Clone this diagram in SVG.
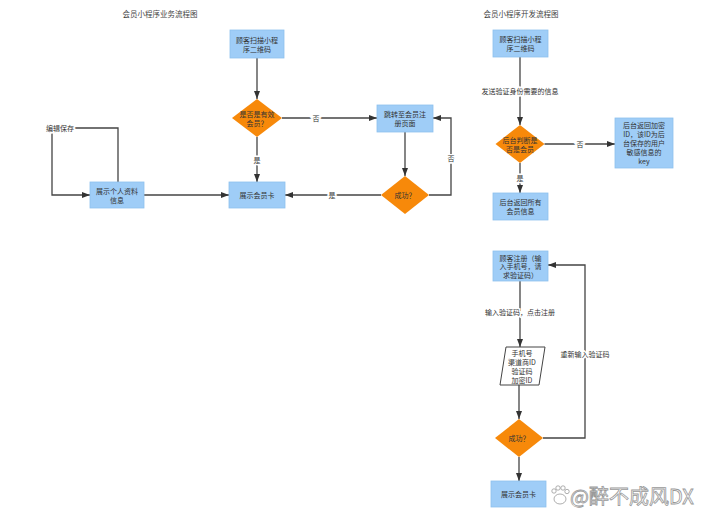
<svg xmlns="http://www.w3.org/2000/svg" width="712" height="521" viewBox="0 0 712 521">
<style>
text{font-family:"Noto Sans CJK SC","Liberation Sans",sans-serif;font-size:7px;fill:#333;text-anchor:middle;dominant-baseline:central}
.box{fill:#9fcdf7;stroke:#8ec0ee;stroke-width:0.8}
.dia{fill:#f7890a}
.edge{fill:none;stroke:#444;stroke-width:1.3}
.lbl{stroke:#fff;stroke-width:3;paint-order:stroke}
.title{font-size:7.5px;fill:#444}
.wm{font-size:20px;fill:#fff;stroke:#999;stroke-width:0.8;text-anchor:start}
.paw{fill:#fff;stroke:#999;stroke-width:0.8}
</style>
<defs>
<marker id="ah" markerWidth="8" markerHeight="6" refX="8" refY="3" orient="auto" markerUnits="userSpaceOnUse">
<path d="M0,0 L8,3 L0,6 z" fill="#333"/>
</marker>
</defs>
<rect width="712" height="521" fill="#fff"/>
<text class="title" x="160" y="13">会员小程序业务流程图</text>
<text class="title" x="521" y="13">会员小程序开发流程图</text>

<g id="connectors">
<path class="edge" d="M257,58 V99" marker-end="url(#ah)"/>
<path class="edge" d="M282,118 H377" marker-end="url(#ah)"/>
<path class="edge" d="M405,132 V176" marker-end="url(#ah)"/>
<path class="edge" d="M429,195 H451 V118 H433" marker-end="url(#ah)"/>
<path class="edge" d="M381,195 H285" marker-end="url(#ah)"/>
<path class="edge" d="M257,137 V182" marker-end="url(#ah)"/>
<path class="edge" d="M144,195 H229" marker-end="url(#ah)"/>
<path class="edge" d="M118,182 V128 H52 V195 H90" marker-end="url(#ah)"/>
<path class="edge" d="M520,57 V125" marker-end="url(#ah)"/>
<path class="edge" d="M544.5,144 H615" marker-end="url(#ah)"/>
<path class="edge" d="M520,163 V193" marker-end="url(#ah)"/>
<path class="edge" d="M520,281 V347" marker-end="url(#ah)"/>
<path class="edge" d="M519,385 V419" marker-end="url(#ah)"/>
<path class="edge" d="M543,438 H585 V265 H548" marker-end="url(#ah)"/>
<path class="edge" d="M519,457 V481" marker-end="url(#ah)"/>
<text class="lbl" x="316" y="118">否</text>
<text class="lbl" x="451" y="158">否</text>
<text class="lbl" x="332" y="195">是</text>
<text class="lbl" x="257" y="160">是</text>
<text class="lbl" x="60" y="128">编辑保存</text>
<text class="lbl" x="520" y="91">发送验证身份需要的信息</text>
<text class="lbl" x="580" y="144">否</text>
<text class="lbl" x="520" y="178">是</text>
<text class="lbl" x="520" y="312">输入验证码，点击注册</text>
<text class="lbl" x="585" y="354">重新输入验证码</text>
</g>

<g id="n_scan_left">
<rect class="box" x="230" y="30" width="54" height="28"/>
<text x="257" y="40">顾客扫描小程</text>
<text x="257" y="49">序二维码</text>
</g>
<g id="n_valid">
<polygon class="dia" points="257,99 282,118 257,137 232,118"/>
<text x="257" y="114">是否是有效</text>
<text x="257" y="123">会员？</text>
</g>
<g id="n_register_page">
<rect class="box" x="377" y="105" width="56" height="27"/>
<text x="405" y="114">跳转至会员注</text>
<text x="405" y="123">册页面</text>
</g>
<g id="n_success_left">
<polygon class="dia" points="405,176 429,195 405,214 381,195"/>
<text x="405" y="195">成功？</text>
</g>
<g id="n_card_left">
<rect class="box" x="229" y="182" width="56" height="26"/>
<text x="257" y="195">展示会员卡</text>
</g>
<g id="n_profile">
<rect class="box" x="90" y="182" width="54" height="26"/>
<text x="117" y="191">展示个人资料</text>
<text x="117" y="200">信息</text>
</g>

<g id="n_scan_right">
<rect class="box" x="493" y="30" width="55" height="27"/>
<text x="520.5" y="39">顾客扫描小程</text>
<text x="520.5" y="48">序二维码</text>
</g>
<g id="n_is_member">
<polygon class="dia" points="520,125 544.5,144 520,163 495.5,144"/>
<text x="520" y="140">后台判断是</text>
<text x="520" y="149">否是会员</text>
</g>
<g id="n_encrypt_id">
<rect class="box" x="615" y="118" width="58" height="50"/>
<text x="644" y="125">后台返回加密</text>
<text x="644" y="134">ID，该ID为后</text>
<text x="644" y="143">台保存的用户</text>
<text x="644" y="152">敏感信息的</text>
<text x="644" y="161">key</text>
</g>
<g id="n_member_info">
<rect class="box" x="493" y="193" width="55" height="27"/>
<text x="520.5" y="202">后台返回所有</text>
<text x="520.5" y="211">会员信息</text>
</g>
<g id="n_signup">
<rect class="box" x="493" y="251" width="55" height="30"/>
<text x="520.5" y="257.5">顾客注册（输</text>
<text x="520.5" y="266">入手机号，请</text>
<text x="520.5" y="274.5">求验证码）</text>
</g>
<g id="n_data">
<polygon fill="#fff" stroke="#444" stroke-width="1" points="506,347 545,347 539,385 500,385"/>
<text x="522" y="353">手机号</text>
<text x="522" y="362">渠道商ID</text>
<text x="522" y="371">验证码</text>
<text x="522" y="380">加密ID</text>
</g>
<g id="n_success_right">
<polygon class="dia" points="519,419 543,438 519,457 495,438"/>
<text x="519" y="438">成功？</text>
</g>
<g id="n_card_right">
<rect class="box" x="491" y="481" width="55" height="26"/>
<text x="518.5" y="494">展示会员卡</text>
</g>

<g id="watermark">
<ellipse class="paw" cx="560" cy="499" rx="6" ry="5"/>
<circle class="paw" cx="554" cy="491" r="2.2"/>
<circle class="paw" cx="558" cy="488" r="2.2"/>
<circle class="paw" cx="563" cy="488" r="2.2"/>
<circle class="paw" cx="567" cy="491.5" r="2.2"/>
<text class="wm" x="570" y="495">@醉不成风DX</text>
</g>
</svg>
